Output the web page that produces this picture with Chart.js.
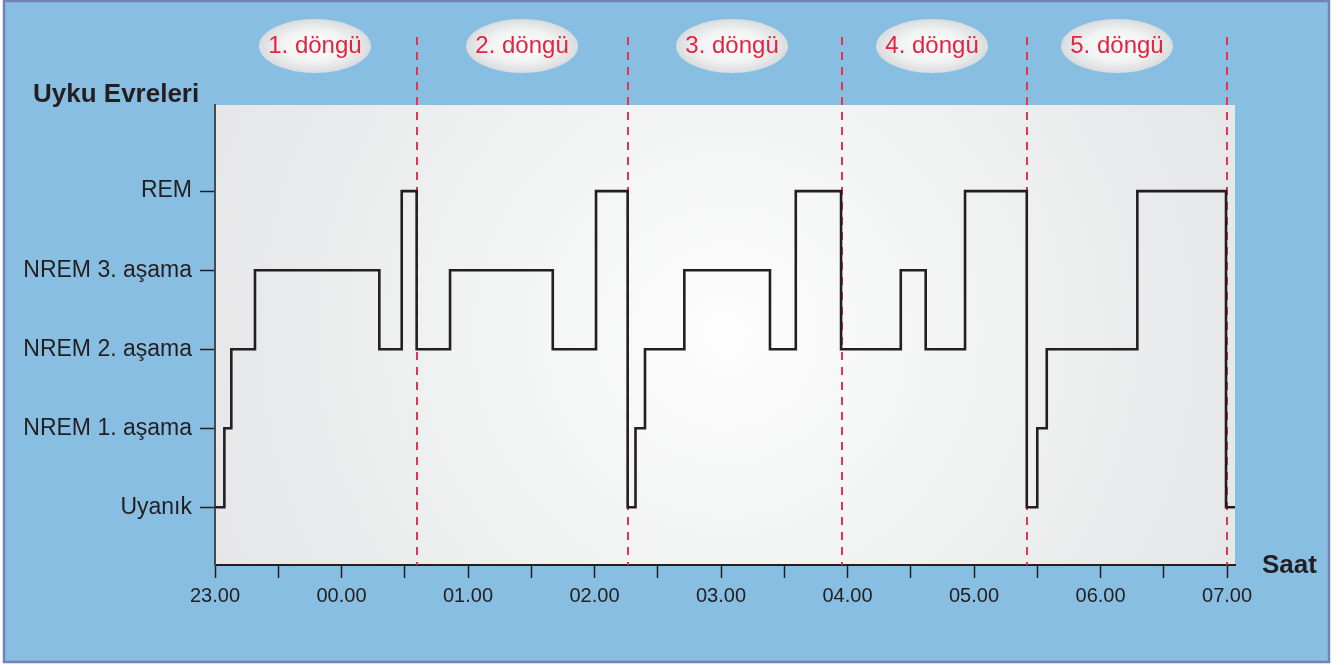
<!DOCTYPE html>
<html lang="tr">
<head>
<meta charset="utf-8">
<title>Uyku Evreleri</title>
<script src="https://cdn.jsdelivr.net/npm/chart.js@4"></script>
<style>
  html, body { margin: 0; padding: 0; background: #ffffff; }
  #kutu { width: 1344px; height: 665px; }
</style>
</head>
<body>
<div id="kutu"><canvas id="grafik" width="1344" height="665"></canvas></div>
<script>
// Uyku evreleri (y ekseni, alttan üste)
const evreler = ['Uyanık', 'NREM 1. aşama', 'NREM 2. aşama', 'NREM 3. aşama', 'REM'];
// Saat etiketleri (23.00'ten itibaren her saat)
const saatler = ['23.00', '00.00', '01.00', '02.00', '03.00', '04.00', '05.00', '06.00', '07.00'];

// Evre değişim anları (23.00'ten sonra geçen saat) ve yeni evre (0 = Uyanık ... 4 = REM)
const gecisZamani = [0, 0.074, 0.129, 0.316, 1.299, 1.476, 1.594, 1.858, 2.670, 3.012,
                     3.262, 3.324, 3.399, 3.710, 4.387, 4.591, 4.949, 5.421, 5.618, 5.929,
                     6.417, 6.500, 6.575, 7.291, 7.992, 8.063];
const gecisEvre   = [0, 1, 2, 3, 2, 4, 2, 3, 2, 4,
                     0, 1, 2, 3, 2, 4, 2, 3, 2, 4,
                     0, 1, 2, 4, 0, 0];

// Döngü sınırları (kesikli kırmızı çizgiler) ve döngü etiketleri
const donguSinirlari = [1.594, 3.265, 4.957, 6.419, 7.996];
const donguEtiketleri = ['1. döngü', '2. döngü', '3. döngü', '4. döngü', '5. döngü'];
const donguEtiketYeri = [0.79, 2.427, 4.087, 5.668, 7.13];

// Grafik için nokta listesi
const noktalar = gecisZamani.map((x, i) => ({ x: x, y: gecisEvre[i] }));

const yazi = '"Liberation Sans", Arial, sans-serif';

// Arka plan, başlıklar, döngü çizgileri ve etiketleri
const susleme = {
    id: 'susleme',
    beforeDraw(chart) {
        const ctx = chart.ctx;
        const a = chart.chartArea;
        ctx.save();
        // mavi çerçeve
        ctx.fillStyle = '#89bee3';
        ctx.fillRect(3, 0, 1327, 663);
        ctx.strokeStyle = '#7283b6';
        ctx.lineWidth = 2.5;
        ctx.strokeRect(4, 1, 1325, 661);
        // gri çizim alanı (ortası açık)
        const g = ctx.createRadialGradient(727, 335, 0, 727, 335, 560);
        g.addColorStop(0, '#fdfdfd');
        g.addColorStop(0.55, '#eff0f0');
        g.addColorStop(1, '#e4e6e7');
        ctx.fillStyle = g;
        ctx.fillRect(a.left, a.top, a.right - a.left, a.bottom - a.top);
        ctx.restore();
    },
    beforeDatasetsDraw(chart) {
        const ctx = chart.ctx;
        const a = chart.chartArea;
        const xs = chart.scales.x;
        ctx.save();
        // kesikli döngü sınırları
        ctx.strokeStyle = '#e63350';
        ctx.lineWidth = 2;
        ctx.setLineDash([8, 7]);
        donguSinirlari.forEach(v => {
            const px = Math.round(xs.getPixelForValue(v));
            ctx.beginPath();
            ctx.moveTo(px, 37);
            ctx.lineTo(px, a.bottom);
            ctx.stroke();
        });
        ctx.restore();
    },
    afterDatasetsDraw(chart) {
        const ctx = chart.ctx;
        const xs = chart.scales.x;
        ctx.save();
        // döngü etiketleri (elips içinde)
        donguEtiketleri.forEach((t, i) => {
            const cx = xs.getPixelForValue(donguEtiketYeri[i]);
            const cy = 46;
            ctx.save();
            ctx.translate(cx, cy);
            ctx.scale(1, 27 / 56);
            const eg = ctx.createRadialGradient(0, 0, 0, 0, 0, 56);
            eg.addColorStop(0, '#ffffff');
            eg.addColorStop(0.6, '#f1f2f2');
            eg.addColorStop(1, '#d9dcdd');
            ctx.fillStyle = eg;
            ctx.beginPath();
            ctx.arc(0, 0, 56, 0, Math.PI * 2);
            ctx.fill();
            ctx.restore();
            ctx.fillStyle = '#e52240';
            ctx.font = '24px ' + yazi;
            ctx.textAlign = 'center';
            ctx.textBaseline = 'middle';
            ctx.fillText(t, cx, cy);
        });
        // eksen başlıkları
        ctx.fillStyle = '#231f20';
        ctx.font = 'bold 26px ' + yazi;
        ctx.textAlign = 'left';
        ctx.textBaseline = 'alphabetic';
        ctx.fillText('Uyku Evreleri', 33, 102);
        ctx.fillText('Saat', 1262, 573);
        ctx.restore();
    }
};

new Chart(document.getElementById('grafik'), {
    type: 'line',
    data: {
        datasets: [{
            data: noktalar,
            stepped: true,
            borderColor: '#231f20',
            borderWidth: 2.6,
            borderJoinStyle: 'miter',
            pointRadius: 0,
            fill: false
        }]
    },
    options: {
        responsive: false,
        animation: false,
        layout: { padding: { top: 105, right: 109, bottom: 0, left: 0 } },
        plugins: {
            legend: { display: false },
            tooltip: { enabled: false }
        },
        scales: {
            x: {
                type: 'linear',
                min: 0,
                max: 8.063,
                afterFit(scale) { scale.height = 100; },
                afterBuildTicks(scale) {
                    const t = [];
                    for (let v = 0; v <= 8; v += 0.5) t.push({ value: v });
                    scale.ticks = t;
                },
                ticks: {
                    autoSkip: false,
                    maxRotation: 0,
                    padding: 6,
                    color: '#231f20',
                    font: { family: yazi, size: 20 },
                    callback: v => Number.isInteger(v) ? saatler[v] : ''
                },
                grid: {
                    drawOnChartArea: false,
                    tickLength: 13,
                    tickWidth: 1.5,
                    tickColor: '#231f20'
                },
                border: { color: '#231f20', width: 2 }
            },
            y: {
                type: 'linear',
                min: -0.73,
                max: 5.09,
                afterFit(scale) { scale.width = 215; },
                afterBuildTicks(scale) {
                    scale.ticks = evreler.map((e, i) => ({ value: i }));
                },
                ticks: {
                    padding: 8,
                    color: '#231f20',
                    font: { family: yazi, size: 23 },
                    callback: v => evreler[v]
                },
                grid: {
                    drawOnChartArea: false,
                    tickLength: 15,
                    tickWidth: 1.5,
                    tickColor: '#231f20'
                },
                border: { color: '#4a4a4a', width: 2 }
            }
        }
    },
    plugins: [susleme]
});
</script>
</body>
</html>
